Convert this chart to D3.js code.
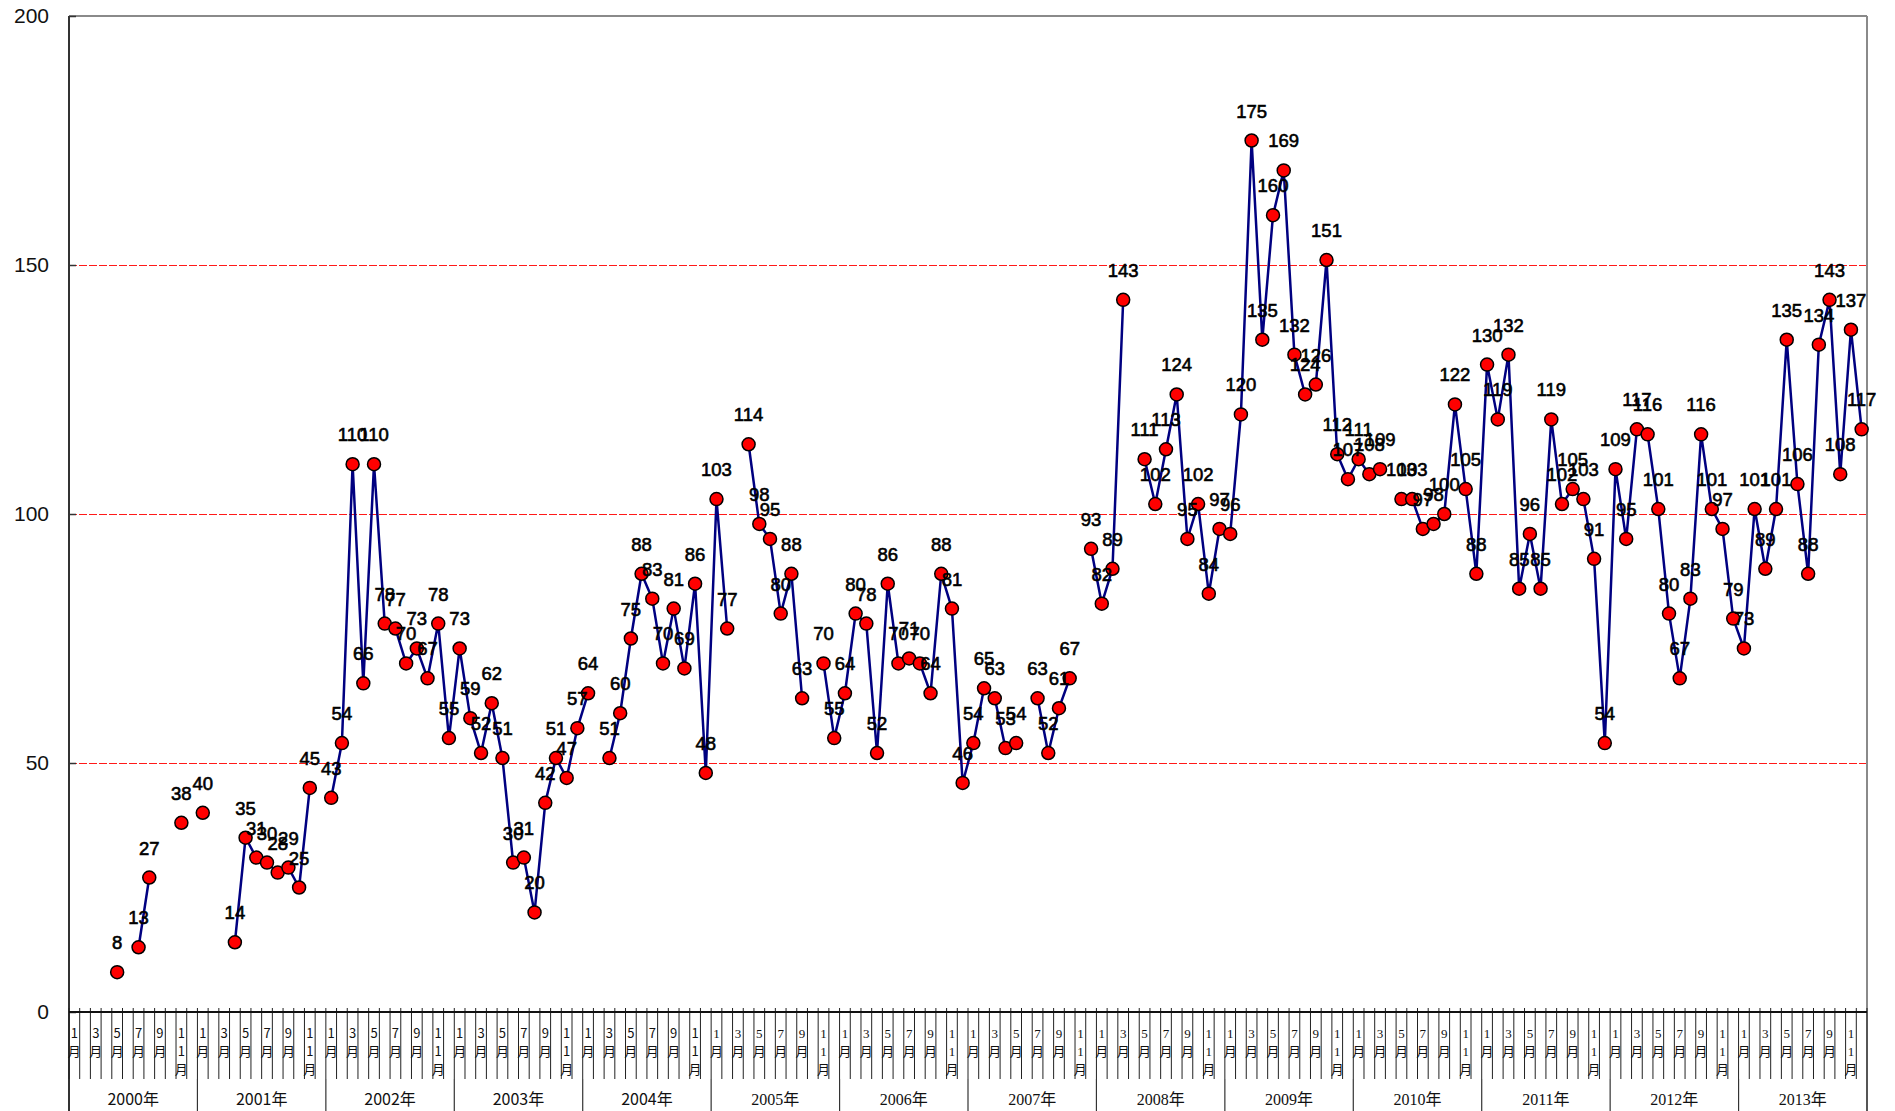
<!DOCTYPE html>
<html>
<head>
<meta charset="utf-8">
<script src="https://cdn.jsdelivr.net/npm/d3@7"></script>
<style>
  body { margin: 0; background: #fff; }
  svg { display: block; }
</style>
</head>
<body>
<div class="chart"></div>
<script>
// monthly values, Jan..Dec, null = no data that month
var v2000 = [null, null, null, null, 8, null, 13, 27, null, null, 38, null];
var v2001 = [40, null, null, 14, 35, 31, 30, 28, 29, 25, 45, null];
var v2002 = [43, 54, 110, 66, 110, 78, 77, 70, 73, 67, 78, 55];
var v2003 = [73, 59, 52, 62, 51, 30, 31, 20, 42, 51, 47, 57];
var v2004 = [64, null, 51, 60, 75, 88, 83, 70, 81, 69, 86, 48];
var v2005 = [103, 77, null, 114, 98, 95, 80, 88, 63, null, 70, 55];
var v2006 = [64, 80, 78, 52, 86, 70, 71, 70, 64, 88, 81, 46];
var v2007 = [54, 65, 63, 53, 54, null, 63, 52, 61, 67, null, 93];
var v2008 = [82, 89, 143, null, 111, 102, 113, 124, 95, 102, 84, 97];
var v2009 = [96, 120, 175, 135, 160, 169, 132, 124, 126, 151, 112, 107];
var v2010 = [111, 108, 109, null, 103, 103, 97, 98, 100, 122, 105, 88];
var v2011 = [130, 119, 132, 85, 96, 85, 119, 102, 105, 103, 91, 54];
var v2012 = [109, 95, 117, 116, 101, 80, 67, 83, 116, 101, 97, 79];
var v2013 = [73, 101, 89, 101, 135, 106, 88, 134, 143, 108, 137, 117];

var yearLabels = ["2000年", "2001年", "2002年", "2003年", "2004年", "2005年", "2006年",
  "2007年", "2008年", "2009年", "2010年", "2011年", "2012年", "2013年"];
var monthLabels = ["1月", "", "3月", "", "5月", "", "7月", "", "9月", "", "11月", ""];
var yTicks = [0, 50, 100, 150, 200];
var gridValues = [50, 100, 150];

var yearValues = [v2000, v2001, v2002, v2003, v2004, v2005, v2006,
  v2007, v2008, v2009, v2010, v2011, v2012, v2013];

// flatten into one row per month
var data = [];
yearValues.forEach(function(vals, yi) {
  vals.forEach(function(v, m) {
    data.push({ i: yi * 12 + m, year: yi, month: m, value: v });
  });
});

var svgWidth = 1895;
var svgHeight = 1111;

var margin = { top: 16, right: 28, bottom: 99, left: 69 };
var width = svgWidth - margin.left - margin.right;
var height = svgHeight - margin.top - margin.bottom;

var svg = d3.select(".chart")
  .append("svg")
  .attr("width", svgWidth)
  .attr("height", svgHeight);

var chartGroup = svg.append("g")
  .attr("transform", `translate(${margin.left}, ${margin.top})`);

// scales
var x = d3.scaleBand()
  .domain(data.map(d => d.i))
  .range([0, width])
  .padding(0);

var xEdge = d3.scaleLinear()
  .domain([0, data.length])
  .range([0, width]);

var y = d3.scaleLinear()
  .domain([0, 200])
  .range([height, 0]);

// red dashed gridlines
chartGroup.append("g")
  .attr("class", "grid")
  .call(d3.axisLeft(y).tickValues(gridValues).tickSize(-width).tickFormat(""))
  .call(g => g.select(".domain").remove())
  .selectAll("line")
  .attr("stroke", "#ff1a1a")
  .attr("stroke-width", 1)
  .attr("stroke-dasharray", "8,2");

// frame: top and right
chartGroup.append("line")
  .attr("x1", 0).attr("x2", width)
  .attr("y1", 0).attr("y2", 0)
  .attr("stroke", "#8a8a8a")
  .attr("stroke-width", 2);
chartGroup.append("line")
  .attr("x1", width).attr("x2", width)
  .attr("y1", 0).attr("y2", svgHeight - margin.top)
  .attr("stroke", "#8a8a8a")
  .attr("stroke-width", 2);

// y axis
var leftAxis = d3.axisLeft(y)
  .tickValues(yTicks)
  .tickSizeInner(-7)
  .tickSizeOuter(0)
  .tickPadding(20);

chartGroup.append("g")
  .attr("class", "y-axis")
  .call(leftAxis)
  .call(g => g.select(".domain").remove())
  .call(g => g.selectAll("line").attr("stroke", "#333").attr("stroke-width", 1.5))
  .selectAll("text")
  .attr("font-family", "'Liberation Sans', Arial, sans-serif")
  .attr("font-size", "21px")
  .attr("fill", "#111");

chartGroup.append("line")
  .attr("x1", 0).attr("x2", 0)
  .attr("y1", 0).attr("y2", svgHeight - margin.top)
  .attr("stroke", "#333")
  .attr("stroke-width", 2);

// x axis, month boundaries and labels
var xAxisGroup = chartGroup.append("g")
  .attr("transform", `translate(0, ${height})`);

var edges = d3.range(data.length + 1);

xAxisGroup.selectAll(".month-tick")
  .data(edges)
  .enter()
  .append("line")
  .attr("class", "month-tick")
  .attr("x1", d => xEdge(d))
  .attr("x2", d => xEdge(d))
  .attr("y1", -4)
  .attr("y2", 67)
  .attr("stroke", "#222")
  .attr("stroke-width", 1);

xAxisGroup.append("line")
  .attr("x1", 0).attr("x2", width)
  .attr("y1", 0).attr("y2", 0)
  .attr("stroke", "#111")
  .attr("stroke-width", 2);

// vertical stacked month labels, one char per row
var monthText = xAxisGroup.selectAll(".month-label")
  .data(data.filter(d => monthLabels[d.month] !== ""))
  .enter()
  .append("text")
  .attr("class", "month-label")
  .attr("text-anchor", "middle")
  .attr("font-size", "13px")
  .attr("font-family", d => d.year < 5
    ? "'Noto Sans CJK JP', sans-serif"
    : "'Liberation Serif', 'Noto Sans CJK JP', serif")
  .attr("fill", "#111");

monthText.each(function(d) {
  var chars = Array.from(monthLabels[d.month]);
  var cx = x(d.i) + x.bandwidth() / 2;
  var t = d3.select(this);
  chars.forEach(function(c, k) {
    t.append("tspan")
      .attr("x", cx)
      .attr("y", 26 + k * 18)
      .text(c);
  });
});

// year row
var years = d3.range(yearLabels.length);

xAxisGroup.selectAll(".year-sep")
  .data(d3.range(yearLabels.length + 1))
  .enter()
  .append("line")
  .attr("class", "year-sep")
  .attr("x1", d => xEdge(d * 12))
  .attr("x2", d => xEdge(d * 12))
  .attr("y1", 67)
  .attr("y2", svgHeight - margin.top - height)
  .attr("stroke", "#333")
  .attr("stroke-width", 1.2);

xAxisGroup.selectAll(".year-label")
  .data(years)
  .enter()
  .append("text")
  .attr("class", "year-label")
  .attr("x", d => (xEdge(d * 12) + xEdge(d * 12 + 12)) / 2)
  .attr("y", 93)
  .attr("text-anchor", "middle")
  .attr("font-size", "16px")
  .attr("font-family", d => d < 5
    ? "'Noto Sans CJK JP', sans-serif"
    : "'Liberation Serif', 'Noto Sans CJK JP', serif")
  .attr("fill", "#111")
  .text(d => yearLabels[d]);

// the series line, broken at missing months
var line = d3.line()
  .defined(d => d.value !== null)
  .x(d => x(d.i) + x.bandwidth() / 2)
  .y(d => y(d.value));

chartGroup.append("path")
  .datum(data)
  .attr("fill", "none")
  .attr("stroke", "#000080")
  .attr("stroke-width", 2.5)
  .attr("stroke-linejoin", "round")
  .attr("d", line);

var points = data.filter(d => d.value !== null);

chartGroup.selectAll("circle")
  .data(points)
  .enter()
  .append("circle")
  .attr("cx", d => x(d.i) + x.bandwidth() / 2)
  .attr("cy", d => y(d.value))
  .attr("r", 6.5)
  .attr("fill", "#ff0000")
  .attr("stroke", "#000")
  .attr("stroke-width", 1.5);

// value labels above each point
chartGroup.selectAll(".value-label")
  .data(points)
  .enter()
  .append("text")
  .attr("class", "value-label")
  .attr("x", d => x(d.i) + x.bandwidth() / 2)
  .attr("y", d => y(d.value) - 23)
  .attr("text-anchor", "middle")
  .attr("font-family", "'Liberation Sans', Arial, sans-serif")
  .attr("font-size", "18.5px")
  .attr("fill", "#000")
  .attr("stroke", "#000")
  .attr("stroke-width", 0.6)
  .text(d => d.value);
</script>
</body>
</html>
